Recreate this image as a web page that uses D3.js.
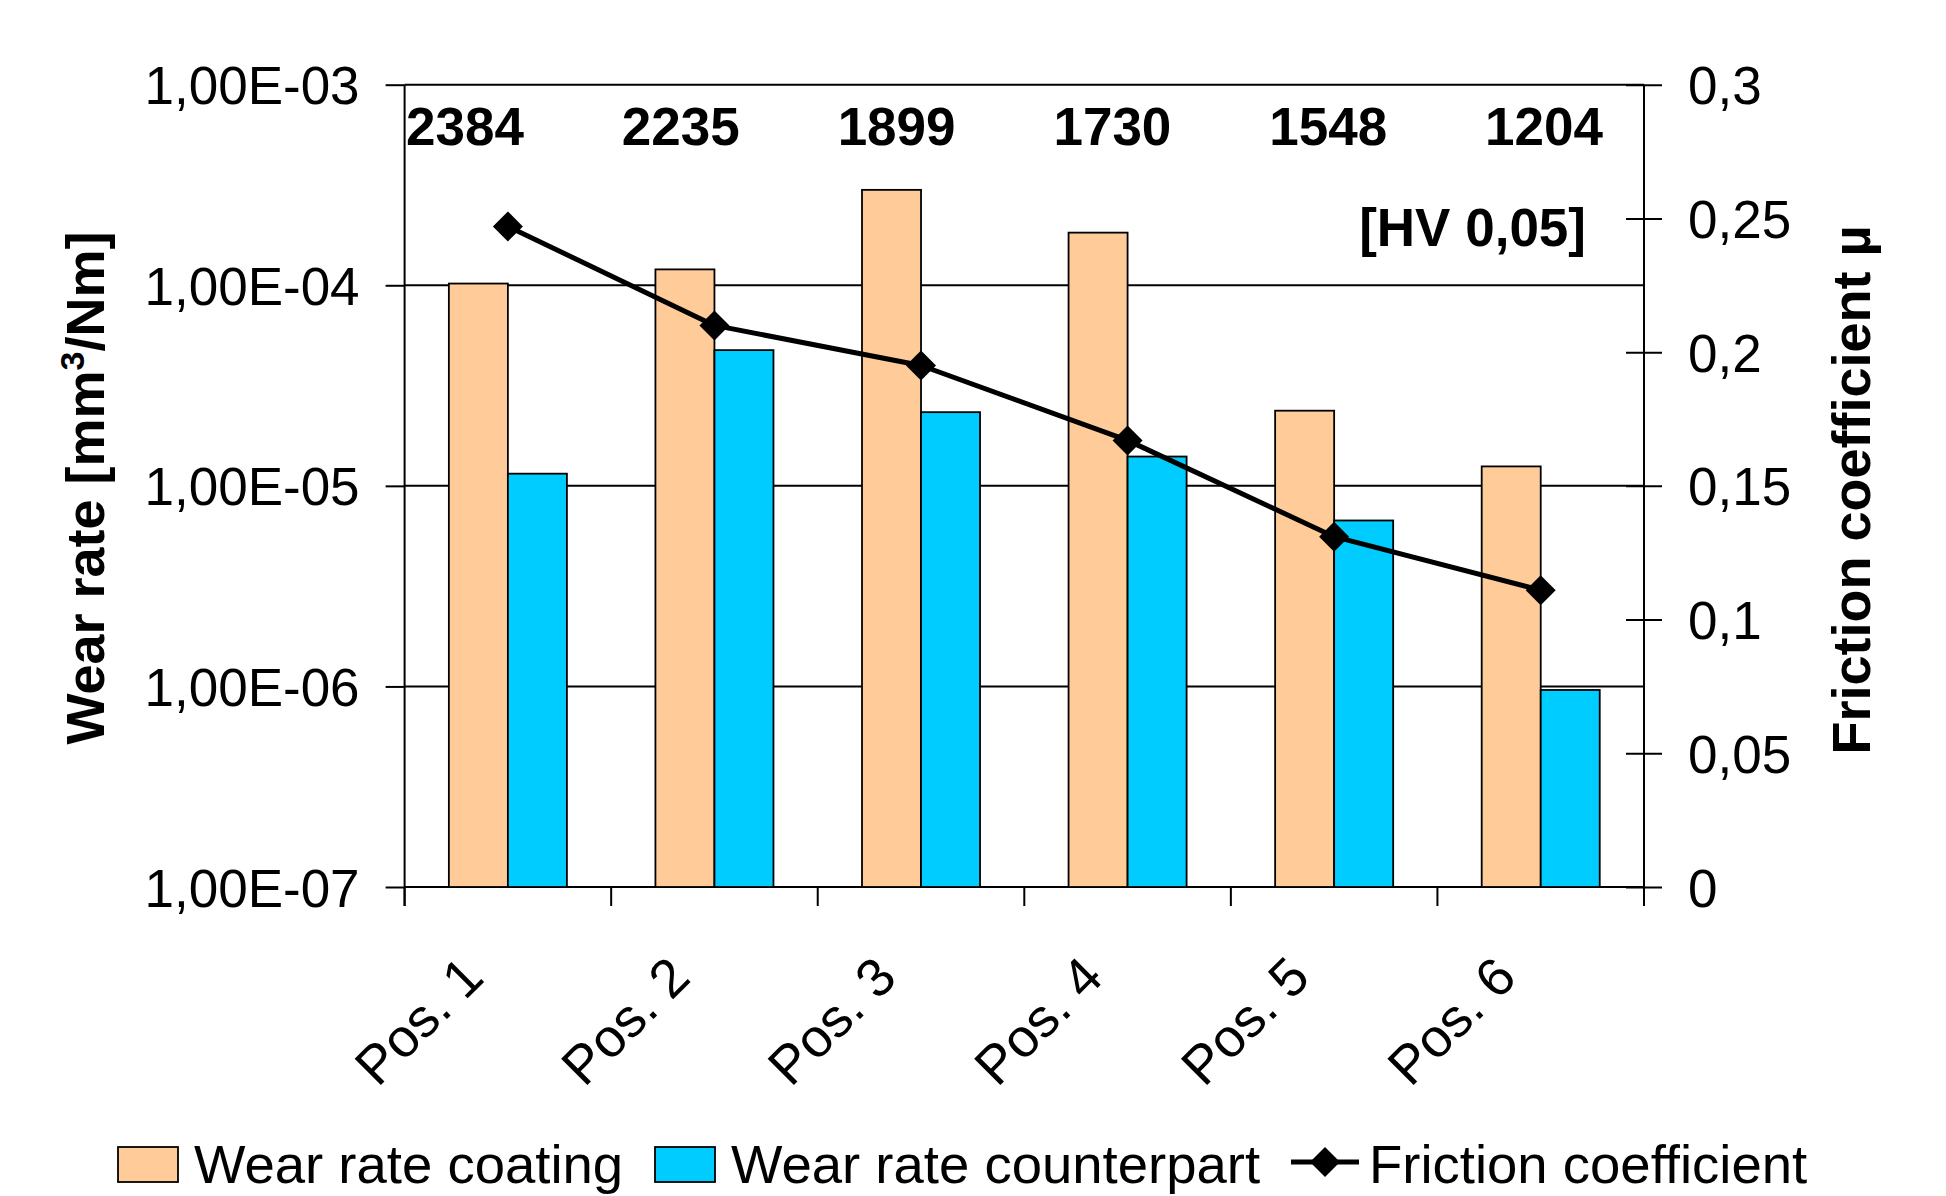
<!DOCTYPE html>
<html>
<head>
<meta charset="utf-8">
<script src="https://cdn.jsdelivr.net/npm/d3@7"></script>
<style>
  body { margin: 0; background: #fff; }
  svg { display: block; }
  text { font-family: "Liberation Sans", Arial, Helvetica, sans-serif; fill: #000; }
</style>
</head>
<body>
<svg id="chart" width="1946" height="1196"></svg>
<script>
// ---- data ----
const categories = ["Pos. 1", "Pos. 2", "Pos. 3", "Pos. 4", "Pos. 5", "Pos. 6"];
const wearCoating = [1.02e-4, 1.20e-4, 2.99e-4, 1.83e-4, 2.37e-5, 1.25e-5];
const wearCounterpart = [1.15e-5, 4.75e-5, 2.33e-5, 1.40e-5, 6.72e-6, 9.6e-7];
const friction = [0.247, 0.210, 0.195, 0.167, 0.131, 0.111];
const hardness = [2384, 2235, 1899, 1730, 1548, 1204];
const hardnessUnit = "[HV 0,05]";
const wearTicks = [1e-7, 1e-6, 1e-5, 1e-4, 1e-3];
const wearTickLabels = ["1,00E-07", "1,00E-06", "1,00E-05", "1,00E-04", "1,00E-03"];
const frictionTicks = [0, 0.05, 0.1, 0.15, 0.2, 0.25, 0.3];
const frictionTickLabels = ["0", "0,05", "0,1", "0,15", "0,2", "0,25", "0,3"];
const seriesNames = ["Wear rate coating", "Wear rate counterpart", "Friction coefficient"];
const seriesColors = ["#FFCC99", "#00CCFF", "#000000"];

// ---- layout ----
const plot = { left: 404.6, right: 1644, top: 84.7, bottom: 887 };
const svg = d3.select("#chart");

const x0 = d3.scaleBand()
  .domain(categories)
  .range([plot.left, plot.right])
  .paddingInner(1.5 / 3.5)
  .paddingOuter(0.75 / 3.5);
const x1 = d3.scaleBand()
  .domain(["coating", "counterpart"])
  .range([0, x0.bandwidth()]);
const yWear = d3.scaleLog().domain([1e-7, 1e-3]).range([plot.bottom, plot.top]);
const yFric = d3.scaleLinear().domain([0, 0.3]).range([plot.bottom, plot.top]);
const xMid = d => x0(d) + x0.bandwidth() / 2;

// ---- horizontal gridlines at each decade ----
svg.append("g")
  .selectAll("line")
  .data(wearTicks)
  .join("line")
  .attr("x1", plot.left).attr("x2", plot.right)
  .attr("y1", d => yWear(d)).attr("y2", d => yWear(d))
  .attr("stroke", "#000").attr("stroke-width", 2);

// ---- bars ----
const barRows = categories.map((c, i) => [
  { cat: c, key: "coating", v: wearCoating[i], color: seriesColors[0] },
  { cat: c, key: "counterpart", v: wearCounterpart[i], color: seriesColors[1] }
]).flat();

svg.append("g")
  .selectAll("rect")
  .data(barRows)
  .join("rect")
  .attr("x", d => x0(d.cat) + x1(d.key))
  .attr("width", x1.bandwidth())
  .attr("y", d => yWear(d.v))
  .attr("height", d => yWear(1e-7) - yWear(d.v))
  .attr("fill", d => d.color)
  .attr("stroke", "#000")
  .attr("stroke-width", 1.8);

// ---- left axis (log) ----
const axisLeft = d3.axisLeft(yWear)
  .tickValues(wearTicks)
  .tickFormat((d, i) => wearTickLabels[i])
  .tickSize(19).tickSizeOuter(0).tickPadding(26);
const gL = svg.append("g").attr("transform", `translate(${plot.left},0)`).call(axisLeft);
gL.select(".domain").remove();
gL.selectAll(".tick line").attr("stroke", "#000").attr("stroke-width", 2);
gL.selectAll(".tick text").attr("font-size", 53).attr("dy", "0.36em").attr("fill", "#000");
svg.append("line")
  .attr("x1", plot.left).attr("x2", plot.left)
  .attr("y1", plot.top).attr("y2", plot.bottom + 19)
  .attr("stroke", "#000").attr("stroke-width", 2);

// ---- right axis (friction) with crossing ticks ----
const axisRight = d3.axisRight(yFric)
  .tickValues(frictionTicks)
  .tickFormat((d, i) => frictionTickLabels[i])
  .tickSize(18).tickSizeOuter(0).tickPadding(26);
const gR = svg.append("g").attr("transform", `translate(${plot.right},0)`).call(axisRight);
gR.select(".domain").remove();
gR.selectAll(".tick line").attr("x1", -18).attr("stroke", "#000").attr("stroke-width", 2);
gR.selectAll(".tick text").attr("font-size", 53).attr("dy", "0.36em").attr("fill", "#000");
svg.append("line")
  .attr("x1", plot.right).attr("x2", plot.right)
  .attr("y1", plot.top).attr("y2", plot.bottom + 19)
  .attr("stroke", "#000").attr("stroke-width", 2);

// ---- bottom axis: boundary ticks and rotated category labels ----
const boundaries = categories.map(c => x0(c) - x0.step() * x0.paddingInner() / 2)
  .concat([plot.right]);
svg.append("g")
  .selectAll("line")
  .data(boundaries)
  .join("line")
  .attr("x1", d => d).attr("x2", d => d)
  .attr("y1", plot.bottom).attr("y2", plot.bottom + 19)
  .attr("stroke", "#000").attr("stroke-width", 2);

svg.append("g")
  .selectAll("text")
  .data(categories)
  .join("text")
  .attr("transform", d => `translate(${xMid(d) - 22},${plot.bottom + 93}) rotate(-45)`)
  .attr("text-anchor", "end")
  .attr("font-size", 54)
  .text(d => d);

// ---- friction coefficient line ----
const fricPts = categories.map((c, i) => ({ cat: c, v: friction[i] }));
svg.append("path")
  .datum(fricPts)
  .attr("fill", "none")
  .attr("stroke", seriesColors[2])
  .attr("stroke-width", 5)
  .attr("stroke-linejoin", "round")
  .attr("d", d3.line().x(d => xMid(d.cat)).y(d => yFric(d.v)));

// diamond marker: half-diagonal r = sqrt(size)
const diamond = {
  draw(ctx, size) {
    const r = Math.sqrt(size);
    ctx.moveTo(0, -r); ctx.lineTo(r, 0); ctx.lineTo(0, r); ctx.lineTo(-r, 0); ctx.closePath();
  }
};
svg.append("g")
  .selectAll("path")
  .data(fricPts)
  .join("path")
  .attr("transform", d => `translate(${xMid(d.cat)},${yFric(d.v)})`)
  .attr("d", d3.symbol().type(diamond).size(15 * 15))
  .attr("fill", "#000");

// ---- hardness annotations ----
const xHard = d3.scalePoint().domain(categories).range([465, 1544]);
svg.append("g")
  .selectAll("text")
  .data(categories)
  .join("text")
  .attr("x", d => xHard(d))
  .attr("y", 145)
  .attr("text-anchor", "middle")
  .attr("font-size", 53)
  .attr("font-weight", "bold")
  .text((d, i) => hardness[i]);
svg.append("text")
  .attr("x", 1586).attr("y", 246)
  .attr("text-anchor", "end")
  .attr("font-size", 53)
  .attr("font-weight", "bold")
  .text(hardnessUnit);

// ---- axis titles ----
const tL = svg.append("text")
  .attr("transform", `translate(104,488) rotate(-90)`)
  .attr("text-anchor", "middle")
  .attr("font-size", 54)
  .attr("font-weight", "bold");
tL.append("tspan").text("Wear rate [mm");
tL.append("tspan").attr("font-size", 34).attr("dy", -20).text("3");
tL.append("tspan").attr("dy", 20).text("/Nm]");

svg.append("text")
  .attr("transform", `translate(1870,490) rotate(-90)`)
  .attr("text-anchor", "middle")
  .attr("font-size", 54)
  .attr("font-weight", "bold")
  .text("Friction coefficient µ");

// ---- legend ----
const legendX = [118, 655, 1291];
const legendY = 1147;
const legendBase = 1183;
const lg = svg.append("g");
[0, 1].forEach(i => {
  lg.append("rect")
    .attr("x", legendX[i]).attr("y", legendY)
    .attr("width", 60).attr("height", 35)
    .attr("fill", seriesColors[i])
    .attr("stroke", "#000").attr("stroke-width", 1.8);
  lg.append("text")
    .attr("x", legendX[i] + 76).attr("y", legendBase)
    .attr("font-size", 54.5)
    .text(seriesNames[i]);
});
lg.append("line")
  .attr("x1", legendX[2]).attr("x2", legendX[2] + 68)
  .attr("y1", 1162).attr("y2", 1162)
  .attr("stroke", "#000").attr("stroke-width", 5);
lg.append("path")
  .attr("transform", `translate(${legendX[2] + 34},1162)`)
  .attr("d", d3.symbol().type(diamond).size(15 * 15))
  .attr("fill", "#000");
lg.append("text")
  .attr("x", legendX[2] + 78).attr("y", legendBase)
  .attr("font-size", 54.5)
  .text(seriesNames[2]);
</script>
</body>
</html>
